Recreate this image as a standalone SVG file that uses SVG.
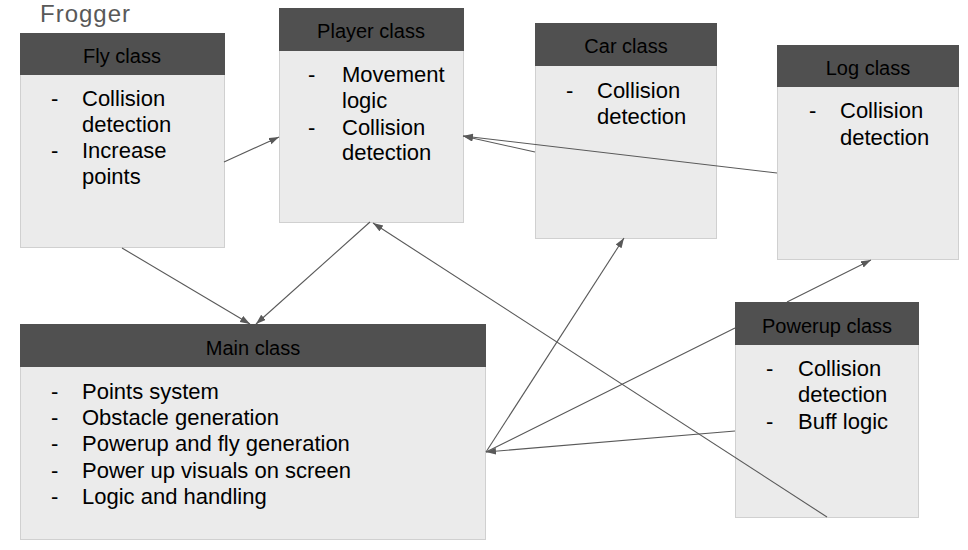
<svg xmlns="http://www.w3.org/2000/svg" width="968" height="550" viewBox="0 0 968 550">
<defs>
<style>
.body{fill:#ebebeb;stroke:#d0d0d0;stroke-width:1}
.head{fill:#505050}
.ht{font-family:"Liberation Sans",Arial,sans-serif;font-size:20px;fill:#000;text-anchor:middle}
.bt{font-family:"Liberation Sans",Arial,sans-serif;font-size:22px;fill:#000}
.title{font-family:"Liberation Sans",Arial,sans-serif;font-size:24px;fill:#595959}
.con{fill:none;stroke:#595959;stroke-width:1.1}
</style>
<marker id="arr" markerUnits="userSpaceOnUse" markerWidth="11" markerHeight="8" refX="10" refY="3.5" orient="auto">
<path d="M0,0 L10,3.5 L0,7 z" fill="#595959"/>
</marker>
</defs>
<rect width="968" height="550" fill="#ffffff"/>
<text class="title" x="40" y="22" textLength="90">Frogger</text>

<g id="fly">
<rect class="body" x="20.5" y="33.5" width="204" height="214"/>
<rect class="head" x="20" y="33" width="205" height="42"/>
<text class="ht" x="122" y="63">Fly class</text>
<text class="bt" x="51" y="106">-</text><text class="bt" x="82" y="106">Collision</text>
<text class="bt" x="82" y="132">detection</text>
<text class="bt" x="51" y="158">-</text><text class="bt" x="82" y="158">Increase</text>
<text class="bt" x="82" y="184">points</text>
</g>

<g id="player">
<rect class="body" x="279.5" y="8.5" width="184" height="214"/>
<rect class="head" x="279" y="8" width="185" height="43"/>
<text class="ht" x="371" y="38">Player class</text>
<text class="bt" x="308" y="82">-</text><text class="bt" x="342" y="82">Movement</text>
<text class="bt" x="342" y="108">logic</text>
<text class="bt" x="308" y="135">-</text><text class="bt" x="342" y="135">Collision</text>
<text class="bt" x="342" y="160">detection</text>
</g>

<g id="car">
<rect class="body" x="535.5" y="23.5" width="181" height="215"/>
<rect class="head" x="535" y="23" width="182" height="43"/>
<text class="ht" x="626" y="53">Car class</text>
<text class="bt" x="566" y="98">-</text><text class="bt" x="597" y="98">Collision</text>
<text class="bt" x="597" y="124">detection</text>
</g>

<g id="log">
<rect class="body" x="777.5" y="45.5" width="181" height="214"/>
<rect class="head" x="777" y="45" width="182" height="42"/>
<text class="ht" x="868" y="75">Log class</text>
<text class="bt" x="809" y="118">-</text><text class="bt" x="840" y="118">Collision</text>
<text class="bt" x="840" y="145">detection</text>
</g>

<g id="main">
<rect class="body" x="20.5" y="324.5" width="465" height="215"/>
<rect class="head" x="20" y="324" width="466" height="43"/>
<text class="ht" x="253" y="355">Main class</text>
<text class="bt" x="51" y="399">-</text><text class="bt" x="82" y="399">Points system</text>
<text class="bt" x="51" y="425">-</text><text class="bt" x="82" y="425">Obstacle generation</text>
<text class="bt" x="51" y="451">-</text><text class="bt" x="82" y="451">Powerup and fly generation</text>
<text class="bt" x="51" y="478">-</text><text class="bt" x="82" y="478">Power up visuals on screen</text>
<text class="bt" x="51" y="504">-</text><text class="bt" x="82" y="504">Logic and handling</text>
</g>

<g id="powerup">
<rect class="body" x="735.5" y="302.5" width="183" height="215"/>
<rect class="head" x="735" y="302" width="184" height="43"/>
<text class="ht" x="827" y="333">Powerup class</text>
<text class="bt" x="766" y="376">-</text><text class="bt" x="798" y="376">Collision</text>
<text class="bt" x="798" y="402">detection</text>
<text class="bt" x="766" y="429">-</text><text class="bt" x="798" y="429">Buff logic</text>
</g>

<g id="connectors">
<path class="con" d="M224,162 L279,137" marker-end="url(#arr)"/>
<path class="con" d="M535,152 L463,136" marker-end="url(#arr)"/>
<path class="con" d="M777,173 L463,136" marker-end="url(#arr)"/>
<path class="con" d="M122,248 L250,324" marker-end="url(#arr)"/>
<path class="con" d="M370,222 L256,324" marker-end="url(#arr)"/>
<path class="con" d="M827,517 L373,223" marker-end="url(#arr)"/>
<path class="con" d="M486,452 L624,238" marker-end="url(#arr)"/>
<path class="con" d="M486,452 L735,328 M787,302 L871,260" marker-end="url(#arr)"/>
<path class="con" d="M735,431 L486,452" marker-end="url(#arr)"/>
</g>
</svg>
